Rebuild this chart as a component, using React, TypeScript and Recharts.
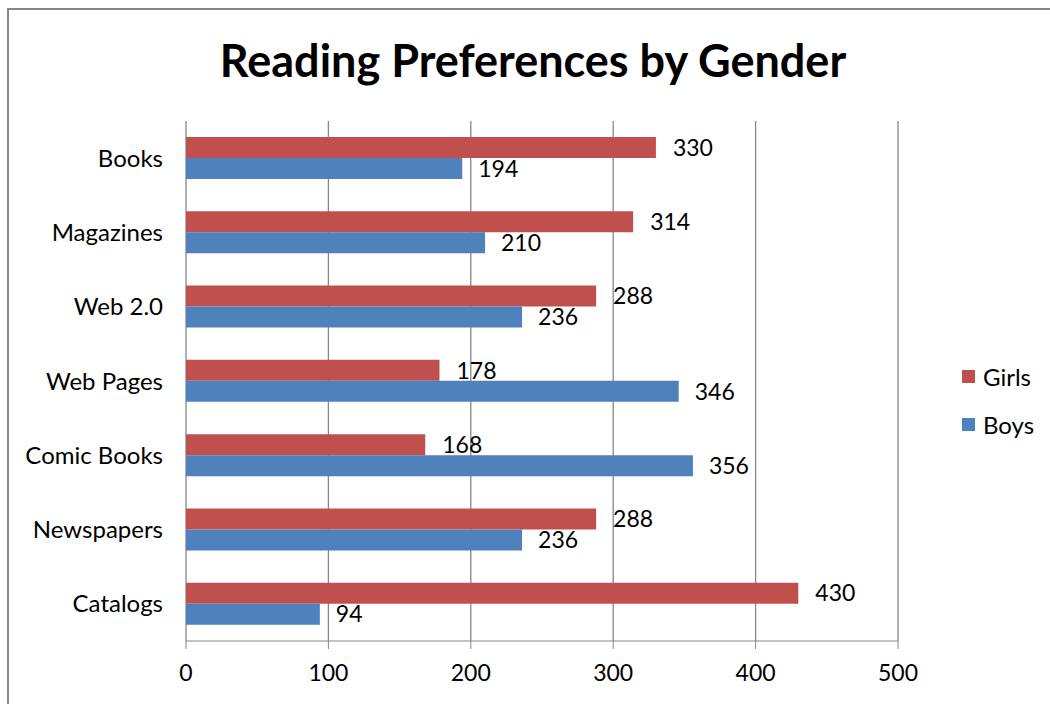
import { Bar, BarChart, CartesianGrid, LabelList, Legend, XAxis, YAxis } from "recharts";

const categories = ["Books", "Magazines", "Web 2.0", "Web Pages", "Comic Books", "Newspapers", "Catalogs"];
const girls = [330, 314, 288, 178, 168, 288, 430];
const boys = [194, 210, 236, 346, 356, 236, 94];
const seriesOrder = ["Girls", "Boys"];
const xTicks = [0, 100, 200, 300, 400, 500];
const edgeTicks = [0, 1, 2, 3, 4, 5, 6, 7];

const data = categories.map((name, i) => ({ name, Girls: girls[i], Boys: boys[i] }));

const FONT = "Lato, 'DejaVu Sans', sans-serif";
const GRAY = "#878787";

function LegendBox({ payload }: { payload?: Array<{ value: string; color: string }> }) {
  const items = [...(payload || [])].sort((a, b) => seriesOrder.indexOf(a.value) - seriesOrder.indexOf(b.value));
  return (
    <div style={{ fontFamily: FONT, fontSize: 24, color: "#000" }}>
      {items.map((p) => (
        <div key={p.value} style={{ height: 48, display: "flex", alignItems: "center", whiteSpace: "nowrap" }}>
          <span style={{ display: "inline-block", width: 13, height: 13, background: p.color, marginRight: 8 }} />
          {p.value}
        </div>
      ))}
    </div>
  );
}

export default function App() {
  return (
    <div style={{ position: "absolute", left: 0, top: 0, width: 1050, height: 704, background: "#fff", overflow: "hidden" }}>
      <div
        style={{
          position: "absolute",
          left: 7,
          top: 8,
          width: 1100,
          height: 800,
          borderLeft: `2px solid ${GRAY}`,
          borderTop: `2px solid ${GRAY}`
        }}
      />
      <div
        style={{
          position: "absolute",
          left: 0,
          top: 33,
          width: 1066,
          textAlign: "center",
          fontFamily: FONT,
          fontWeight: 700,
          fontSize: 45,
          color: "#000"
        }}
      >
        Reading Preferences by Gender
      </div>
      <div style={{ position: "absolute", left: 0, top: 0 }}>
        <BarChart
          width={1050}
          height={704}
          data={data}
          layout="vertical"
          margin={{ top: 121, right: 62, bottom: 0, left: 10 }}
          barSize={21}
          barGap={0}
        >
          <CartesianGrid horizontal={false} stroke={GRAY} strokeWidth={1.3} />
          <XAxis
            type="number"
            domain={[0, 500]}
            ticks={xTicks}
            height={63}
            stroke={GRAY}
            tickSize={8}
            tickMargin={16}
            tick={{ fill: "#000", fontSize: 23, fontFamily: FONT }}
          />
          <YAxis
            yAxisId="edges"
            type="number"
            domain={[0, 7]}
            ticks={edgeTicks}
            allowDataOverflow
            width={0}
            tick={false}
            tickSize={6}
            stroke={GRAY}
          />
          <YAxis
            type="category"
            dataKey="name"
            width={176}
            axisLine={false}
            tickLine={false}
            tickSize={0}
            tickMargin={23}
            tick={{ fill: "#000", fontSize: 24, fontFamily: FONT }}
          />
          <Legend
            layout="vertical"
            align="right"
            verticalAlign="middle"
            width={90}
            wrapperStyle={{ left: 962, top: 352 }}
            content={<LegendBox />}
          />
          <Bar dataKey="Girls" fill="#C0504D" isAnimationActive={false}>
            <LabelList dataKey="Girls" position="right" offset={17} fill="#000" fontSize={23} fontFamily={FONT} />
          </Bar>
          <Bar dataKey="Boys" fill="#4F81BD" isAnimationActive={false}>
            <LabelList dataKey="Boys" position="right" offset={16} fill="#000" fontSize={23} fontFamily={FONT} />
          </Bar>
        </BarChart>
      </div>
    </div>
  );
}
